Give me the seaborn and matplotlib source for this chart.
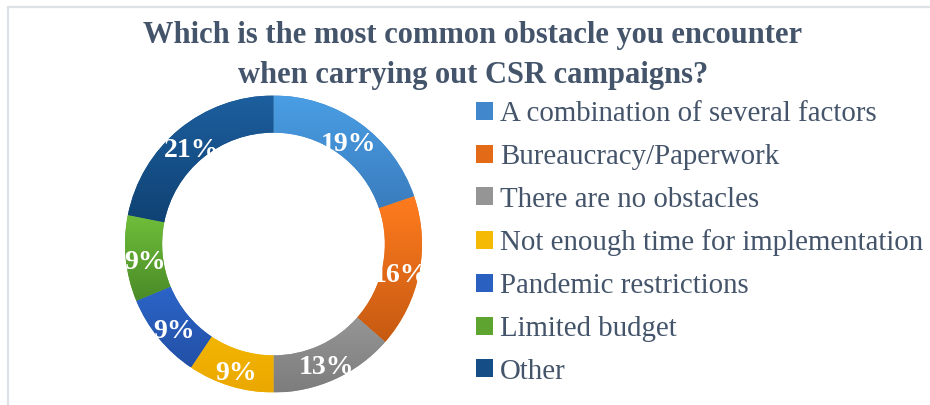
import numpy as np
import matplotlib
matplotlib.use("Agg")
import matplotlib.pyplot as plt
from matplotlib.colors import LinearSegmentedColormap, to_rgb
from matplotlib.lines import Line2D
from matplotlib.patches import Patch
from matplotlib.transforms import offset_copy
import seaborn as sns

# Survey answers and their shares (percent)
categories = [
    "A combination of several factors",
    "Bureaucracy/Paperwork",
    "There are no obstacles",
    "Not enough time for implementation",
    "Pandemic restrictions",
    "Limited budget",
    "Other",
]
shares = [19, 16, 13, 9, 9, 9, 21]

# Vertical gradient of each slice: lighter top, darker bottom
top_colors = ["#4A9EE4", "#FF7C1E", "#ADADAD", "#FFCB05", "#3070DA", "#6FBE3A", "#1D5F9F"]
bottom_colors = ["#3572B2", "#C65A12", "#7D7D7D", "#EBA800", "#2350A6", "#4A8A27", "#0D3D6C"]

title = "Which is the most common obstacle you encounter\nwhen carrying out CSR campaigns?"
text_color = "#44546A"

sns.set_theme(style="white")
plt.rcParams["font.family"] = ["Liberation Serif", "DejaVu Serif"]

W, H = 930, 405
fig = plt.figure(figsize=(W / 100, H / 100), dpi=100)
fig.patch.set_facecolor("white")

# Donut axes: centre (273.5, 244) px, outer radius 148.5 px
cx, cy, r = 273.5, 244, 148.5
ax = fig.add_axes([(cx - r) / W, (H - cy - r) / H, 2 * r / W, 2 * r / H])

mid_colors = [tuple((np.array(to_rgb(a)) + np.array(to_rgb(b))) / 2)
              for a, b in zip(top_colors, bottom_colors)]

wedges, _ = ax.pie(
    shares, startangle=90, counterclock=False, radius=1.0,
    colors=mid_colors,
    wedgeprops=dict(width=0.25, edgecolor="none", linewidth=0),
)

grad = np.linspace(0, 1, 256).reshape(-1, 1)
for w, c_top, c_bot in zip(wedges, top_colors, bottom_colors):
    verts = w.get_patch_transform().transform(w.get_path().vertices)
    x0, y0 = verts.min(axis=0)
    x1, y1 = verts.max(axis=0)
    cmap = LinearSegmentedColormap.from_list("g", [c_bot, c_top])
    im = ax.imshow(grad, extent=(x0, x1, y0, y1), origin="lower", cmap=cmap,
                   aspect="auto", interpolation="bilinear", zorder=w.get_zorder() + 0.1)
    im.set_clip_path(w)

# Percentage labels placed at the middle of each ring segment
label_tf = offset_copy(ax.transData, fig=fig, x=0, y=-4.3, units="points")
for w, v in zip(wedges, shares):
    ang = np.deg2rad((w.theta1 + w.theta2) / 2)
    rr = 0.87
    ax.text(rr * np.cos(ang), rr * np.sin(ang), f"{v}%", ha="center", va="center",
            color="white", fontsize=20, fontweight="bold", zorder=10,
            transform=label_tf)

ax.set_xlim(-1, 1)
ax.set_ylim(-1, 1)
ax.set_aspect("equal")
ax.axis("off")

# Title
fig.text(473 / W, 1 - 55 / H, title, ha="center", va="center", color=text_color,
         fontsize=22, fontweight="bold", linespacing=1.5)

# Legend
handles = [Patch(facecolor=c, edgecolor="none") for c in mid_colors]
fig.legend(handles, categories, loc="upper left",
           bbox_to_anchor=(476 / W, 1 - 101 / H), frameon=False,
           fontsize=20.8, labelcolor=text_color, handlelength=0.58, handleheight=0.58,
           handletextpad=0.25, labelspacing=0.58, borderpad=0, borderaxespad=0)

# Light frame along the top and left
frame_c = "#DDE2E9"
fig.add_artist(Line2D([7.5 / W, 1], [1 - 6.5 / H, 1 - 6.5 / H], transform=fig.transFigure,
                      color=frame_c, lw=1.6))
fig.add_artist(Line2D([7.5 / W, 7.5 / W], [0, 1 - 6.5 / H], transform=fig.transFigure,
                      color=frame_c, lw=1.6))

fig.savefig("out.png", dpi=100, facecolor="white")
